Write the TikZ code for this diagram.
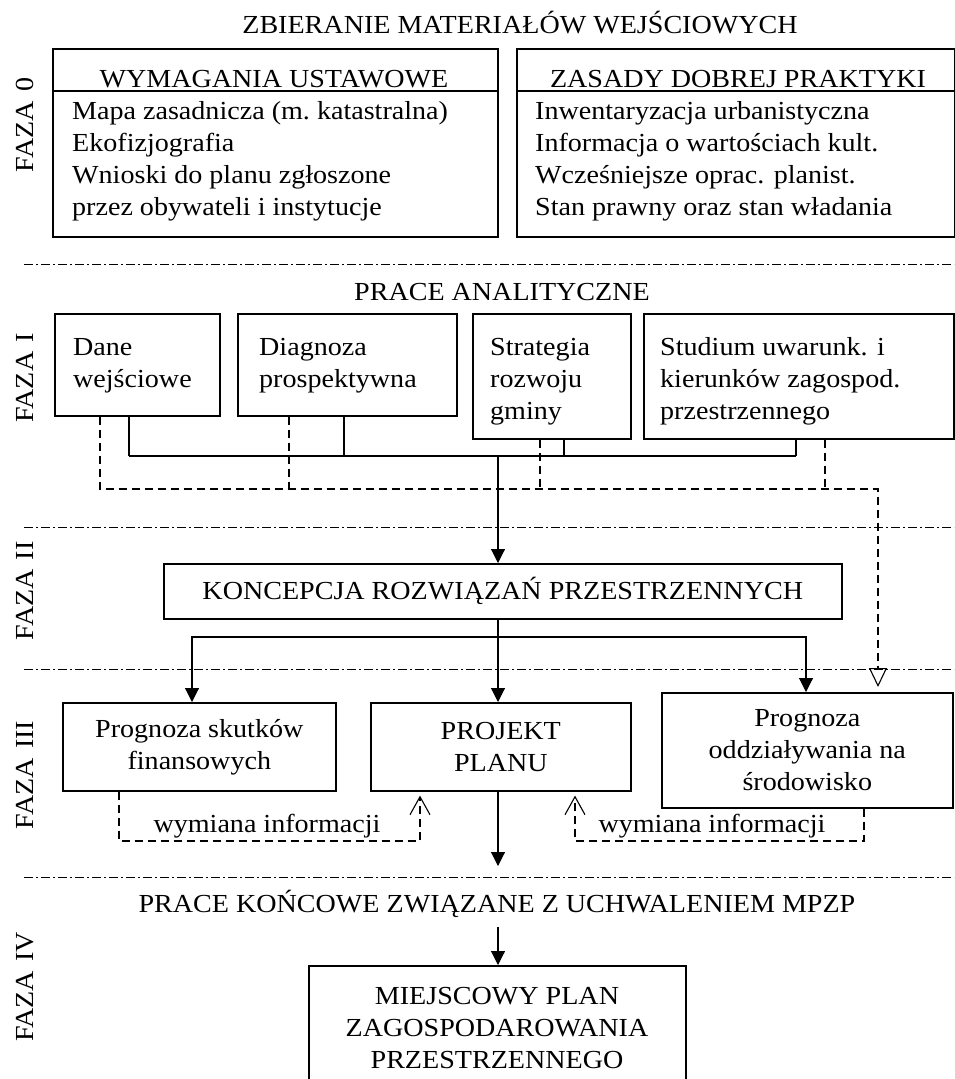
\documentclass[tikz,border=0pt]{standalone}
\usepackage{fontspec}
\setmainfont{Liberation Serif}[FakeStretch=1.08]
\usetikzlibrary{arrows.meta}
\newcommand{\bodyfont}{\fontsize{26}{32}\selectfont}

\begin{document}
\begin{tikzpicture}[x=1pt,y=-1pt,
  every node/.style={font=\bodyfont,inner sep=0pt},
  box/.style={draw,line width=1.6pt,anchor=north west,align=center},
  txt/.style={align=left,anchor=base west},
  flow/.style={line width=1.1pt},
  infolink/.style={line width=1.1pt,dash pattern=on 8pt off 5pt},
  phaseline/.style={line width=1pt,dash pattern=on 9pt off 3pt on 2pt off 3pt},
  arrowfill/.style={-{Triangle[length=14pt,width=14pt]}},
  opentip/.style={-{Triangle[open,length=19pt,width=18pt]}},
  barbtip/.style={-{Straight Barb[length=18pt,width=20pt]}}]
\useasboundingbox (0,0) rectangle (954,1079);

% phase separators and labels
\foreach \y in {264,527,669,877}
  \draw[phaseline] (24,\y) -- (954,\y);
\foreach \nm/\y/\lbl in {f0/125/0, f1/378/I, f2/591/II, f3/775/III, f4/987/IV}
  \node[rotate=90] (\nm) at (25,\y) {FAZA\hspace{0.35em}\lbl};

% FAZA 0
\node[anchor=base] (t0) at (520,33) {ZBIERANIE MATERIAŁÓW WEJŚCIOWYCH};
\node[box,minimum width=445pt,minimum height=188pt] (wym) at (52,48) {};
\draw[line width=1.6pt] (wym.west |- 0,91) -- (wym.east |- 0,91);
\node[anchor=base] (wymhd) at (274,87) {WYMAGANIA USTAWOWE};
\node[txt] (wymtx) at (72,215) {Mapa zasadnicza (m.~katastralna)\\Ekofizjografia\\
  Wnioski do planu zgłoszone\\przez obywateli i~instytucje};
\node[box,minimum width=438pt,minimum height=188pt] (zas) at (516,48) {};
\draw[line width=1.6pt] (zas.west |- 0,91) -- (zas.east |- 0,91);
\node[anchor=base] (zashd) at (738,87) {ZASADY DOBREJ PRAKTYKI};
\node[txt] (zastx) at (535,215) {Inwentaryzacja urbanistyczna\\Informacja o wartościach kult.\\
  Wcześniejsze oprac. planist.\\Stan prawny oraz stan władania};

% FAZA I
\node[anchor=base] (t1) at (502,300) {PRACE ANALITYCZNE};
\node[box,minimum width=165pt,minimum height=102pt] (dane) at (54,313) {};
\node[box,minimum width=219pt,minimum height=102pt] (diag) at (237,313) {};
\node[box,minimum width=158pt,minimum height=125pt] (strat) at (472,313) {};
\node[box,minimum width=310pt,minimum height=125pt] (stud) at (643,313) {};
\node[txt] (danetx) at (73,387) {Dane\\wejściowe};
\node[txt] (diagtx) at (259,387) {Diagnoza\\prospektywna};
\node[txt] (strattx) at (490,419) {Strategia\\rozwoju\\gminy};
\node[txt] (studtx) at (660,419) {Studium uwarunk. i\\kierunków zagospod.\\przestrzennego};

\coordinate (busL) at (129,456);
\coordinate (busR) at (796,456);
\coordinate (busM) at (498,456);
\draw[line width=1.8pt] (busL) -- (busR);
\foreach \n/\x in {dane/129, diag/344, strat/564, stud/796}
  \draw[flow] (\n.south -| \x,0) -- (\x,456);
\foreach \n/\x in {diag/289, strat/540, stud/825}
  \draw[infolink] (\n.south -| \x,0) -- (\x,489);
\draw[infolink,opentip,shorten >=5pt] (dane.south -| 100,0) |- (878,489) -- (878,692);

% FAZA II
\node[box,minimum width=678pt,minimum height=55pt] (konc) at (163,563)
  {KONCEPCJA ROZWIĄZAŃ PRZESTRZENNYCH};
\draw[flow,arrowfill] (busM) -- (konc.north -| busM);

% FAZA III
\node[box,minimum width=273pt,minimum height=88pt] (skut) at (62,702)
  {Prognoza skutków\\finansowych};
\node[box,minimum width=260pt,minimum height=88pt] (proj) at (370,702)
  {PROJEKT\\PLANU};
\node[box,minimum width=291pt,minimum height=115pt] (odd) at (661,692)
  {Prognoza\\oddziaływania na\\środowisko};

\coordinate (split) at (498,637);
\draw[flow] (konc.south -| split) -- (split);
\draw[flow,arrowfill] (split) -- (proj.north -| split);
\draw[flow,arrowfill] (split) -| (skut.north -| 192,0);
\draw[flow,arrowfill] (split) -| (odd.north -| 806,0);

\draw[infolink,barbtip,shorten >=4pt] (skut.south -| 119,0) |- (420,841) -- (proj.south -| 420,0);
\draw[infolink,barbtip,shorten >=4pt] (odd.south -| 864,0) |- (575,841) -- (proj.south -| 575,0);
\node[anchor=base] (wi1) at (267,832) {wymiana informacji};
\node[anchor=base] (wi2) at (712,832) {wymiana informacji};

\coordinate (endIII) at (498,866);
\draw[flow,arrowfill] (proj.south -| endIII) -- (endIII);

% FAZA IV
\node[anchor=base] (t4) at (497,912) {PRACE KOŃCOWE ZWIĄZANE Z UCHWALENIEM MPZP};
\node[box,minimum width=377pt,minimum height=130pt] (mpzp) at (308,965) {};
\node[anchor=base,align=center] (mpzptx) at (497,1068)
  {MIEJSCOWY PLAN\\ZAGOSPODAROWANIA\\PRZESTRZENNEGO};
\coordinate (t4foot) at (498,927);
\draw[flow,arrowfill] (t4foot) -- (mpzp.north -| t4foot);
\end{tikzpicture}
\end{document}
